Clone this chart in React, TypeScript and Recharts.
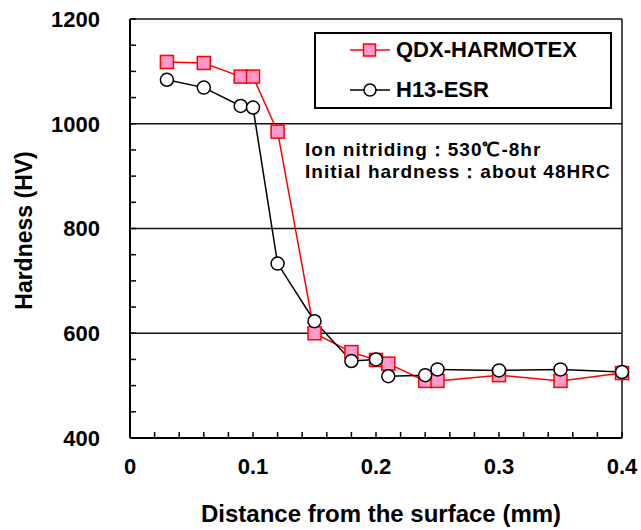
import React from 'react';
import { LineChart, Line, XAxis, YAxis, CartesianGrid, Legend, Label, ReferenceLine } from 'recharts';

// distance from the surface (mm)
const distances = [0.03, 0.06, 0.09, 0.1, 0.12, 0.15, 0.18, 0.2, 0.21, 0.24, 0.25, 0.3, 0.35, 0.4];
// hardness (HV)
const qdxHardness = [1118, 1116, 1090, 1090, 985, 600, 564, 549, 542, 509, 509, 520, 509, 524];
const h13Hardness = [1084, 1069, 1034, 1031, 733, 623, 547, 550, 518, 520, 531, 529, 531, 526];

const xTicks = [0, 0.02, 0.04, 0.06, 0.08, 0.1, 0.12, 0.14, 0.16, 0.18, 0.2, 0.22, 0.24, 0.26, 0.28, 0.3, 0.32, 0.34, 0.36, 0.38, 0.4];
const xTickLabels = ['0', '0.1', '0.2', '0.3', '0.4'];
const yTicks = [400, 450, 500, 550, 600, 650, 700, 750, 800, 850, 900, 950, 1000, 1050, 1100, 1150, 1200];
const yTickLabels = ['400', '600', '800', '1000', '1200'];
const gridValues = [600, 800, 1000, 1200];

const seriesNames = ['QDX-HARMOTEX', 'H13-ESR'];
const notes = ['Ion nitriding：530℃-8hr', 'Initial hardness：about 48HRC'];

const data = distances.map((d, i) => ({ d, qdx: qdxHardness[i], h13: h13Hardness[i] }));

const FONT = '"Liberation Sans", Arial, sans-serif';
const PINK = '#ff99cc';
const RED = '#ff0000';

const XTick = (props: any) => {
  const { x, y, payload } = props;
  const label = xTickLabels.find(l => Math.abs(parseFloat(l) - payload.value) < 1e-6);
  return (
    <g>
      <line x1={x} y1={y} x2={x} y2={y - 6} stroke="#000" strokeWidth={1.5} />
      {label && (
        <text x={x} y={y + 36} textAnchor="middle" fontSize={22} fontWeight="bold" fill="#000" fontFamily={FONT}>
          {label}
        </text>
      )}
    </g>
  );
};

const YTick = (props: any) => {
  const { x, y, payload } = props;
  const label = yTickLabels.find(l => Number(l) === payload.value);
  return (
    <g>
      <line x1={x} y1={y} x2={x + 6} y2={y} stroke="#000" strokeWidth={1.5} />
      {label && (
        <text x={x - 30} y={y} dy="0.36em" textAnchor="end" fontSize={22} fontWeight="bold" fill="#000" fontFamily={FONT}>
          {label}
        </text>
      )}
    </g>
  );
};

const SquareDot = (props: any) => {
  const { cx, cy } = props;
  if (cx == null || cy == null) return null;
  return <rect x={cx - 6.5} y={cy - 6.5} width={13} height={13} fill={PINK} stroke={RED} strokeWidth={1.5} />;
};

const renderLegend = () => (
  <div style={{ position: 'relative', width: '100%', height: '100%', fontFamily: FONT }}>
    {seriesNames.map((name, i) => (
      <div key={name} style={{ position: 'absolute', left: 33, top: -4 + i * 40, height: 40, display: 'flex', alignItems: 'center' }}>
        <svg width={42} height={16} style={{ marginRight: 5 }}>
          <line x1={1} y1={8} x2={41} y2={8} stroke={i === 0 ? RED : '#000'} strokeWidth={1.5} />
          {i === 0 ? (
            <rect x={14.5} y={2} width={12} height={12} fill={PINK} stroke={RED} strokeWidth={1.5} />
          ) : (
            <circle cx={21} cy={8} r={6} fill="#fff" stroke="#000" strokeWidth={1.5} />
          )}
        </svg>
        <span style={{ fontSize: 22, fontWeight: 'bold', color: '#000' }}>{name}</span>
      </div>
    ))}
  </div>
);

export default function App() {
  return (
    <div style={{ position: 'absolute', left: 0, top: 0, width: 641, height: 530, background: '#fff', fontFamily: FONT }}>
      <LineChart width={641} height={530} data={data} margin={{ top: 19, right: 19, bottom: 32, left: 70 }}>
        <CartesianGrid
          horizontal
          vertical
          horizontalValues={gridValues}
          verticalValues={[0.4]}
          stroke="#111"
          strokeWidth={1.5}
        />
        <XAxis
          dataKey="d"
          type="number"
          domain={[0, 0.4]}
          ticks={xTicks}
          interval={0}
          height={60}
          tickSize={0}
          tickMargin={0}
          tickLine={false}
          tick={<XTick />}
          stroke="#000"
          axisLine={{ stroke: '#000', strokeWidth: 2 }}
        >
          <Label
            value="Distance from the surface (mm)"
            position="insideBottom"
            offset={-24}
            dx={5}
            style={{ fontSize: 24, fontWeight: 'bold', fill: '#000', fontFamily: FONT }}
          />
        </XAxis>
        <YAxis
          type="number"
          domain={[400, 1200]}
          ticks={yTicks}
          interval={0}
          width={60}
          tickSize={0}
          tickMargin={0}
          tickLine={false}
          tick={<YTick />}
          stroke="#000"
          axisLine={{ stroke: '#000', strokeWidth: 2 }}
        >
          <Label
            value="Hardness (HV)"
            position="insideLeft"
            angle={-90}
            dx={-51}
            dy={2}
            style={{ fontSize: 23, fontWeight: 'bold', fill: '#000', fontFamily: FONT, textAnchor: 'middle' }}
          />
        </YAxis>
        <ReferenceLine x={0} stroke="#000" strokeWidth={2} />
        <Legend
          layout="horizontal"
          verticalAlign="middle"
          align="center"
          content={renderLegend}
          wrapperStyle={{ left: 314, top: 32, width: 298, height: 77, border: '2px solid #000', boxSizing: 'border-box', background: '#fff' }}
        />
        <Line
          dataKey="qdx"
          name={seriesNames[0]}
          stroke={RED}
          strokeWidth={1.5}
          dot={<SquareDot />}
          isAnimationActive={false}
        />
        <Line
          dataKey="h13"
          name={seriesNames[1]}
          stroke="#000"
          strokeWidth={1.5}
          dot={{ r: 6.5, fill: '#fff', stroke: '#000', strokeWidth: 1.5 }}
          isAnimationActive={false}
        />
      </LineChart>
      {notes.map((t, i) => (
        <div
          key={t}
          style={{ position: 'absolute', left: 305, top: 139 + i * 22, lineHeight: '22px', fontSize: 19, letterSpacing: 1, fontWeight: 'bold', color: '#000', whiteSpace: 'nowrap' }}
        >
          {t}
        </div>
      ))}
    </div>
  );
}
